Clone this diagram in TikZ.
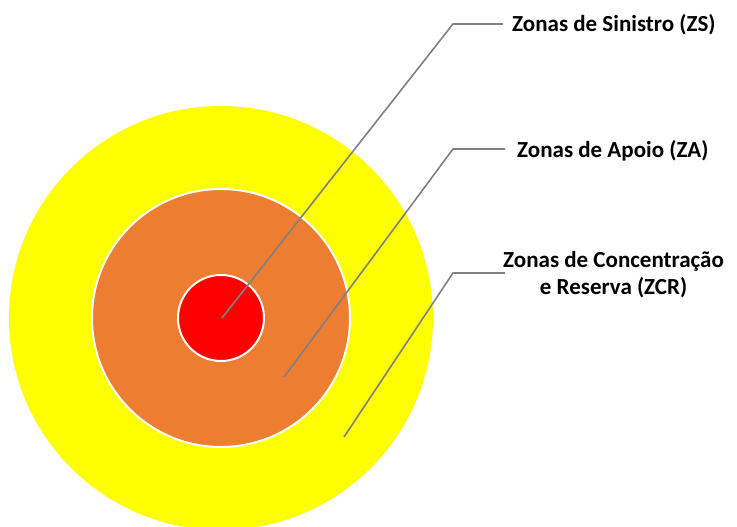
\documentclass[tikz,border=0pt]{standalone}
\usepackage{fontspec}
\setmainfont{Carlito}
\usepackage{tikz}
\usetikzlibrary{positioning}

\definecolor{zcryellow}{RGB}{255,255,0}
\definecolor{zaorange}{RGB}{237,125,49}
\definecolor{zsred}{RGB}{255,0,0}
\definecolor{leadgray}{RGB}{128,128,128}

\tikzset{
  zone/.style={circle, draw=white, line width=2pt, inner sep=0pt},
  lead/.style={draw=leadgray, line width=1.6pt},
  lbl/.style={font=\fontsize{23}{27}\selectfont\bfseries, inner sep=0pt, anchor=west}
}

\begin{document}
\begin{tikzpicture}[x=1pt,y=1pt]
    \useasboundingbox (0,0) rectangle (737,527);

    % draw zones
    \node[zone, draw=none, fill=zcryellow, minimum size=424pt] (zcr) at (221,209) {};
    \node[zone, fill=zaorange, minimum size=258pt] (za) at (221,209) {};
    \node[zone, fill=zsred, minimum size=86pt] (zs) at (221,209) {};

    % draw leader points
    \coordinate (s1) at (222,209);
    \coordinate (e1) at (453,503);
    \coordinate (s2) at (284,150);
    \coordinate (e2) at (453,378);
    \coordinate (s3) at (344,90);
    \coordinate (e3) at (453,254);

    % draw labels
    \node[lbl, right=59pt of e1, yshift=-1pt] (lzs) {Zonas de Sinistro (ZS)};
    \node[lbl, right=64pt of e2, yshift=-2pt] (lza) {Zonas de Apoio (ZA)};
    \node[lbl, align=center, right=50pt of e3, yshift=-2pt] (lzcr) {Zonas de Concentração\\e Reserva (ZCR)};

    % draw leader lines
    \draw[lead] (s1) -- (e1) -- ++(50,0);
    \draw[lead] (s2) -- (e2) -- ++(52,0);
    \draw[lead] (s3) -- (e3) -- ++(52,0);

  \end{tikzpicture}
\end{document}
